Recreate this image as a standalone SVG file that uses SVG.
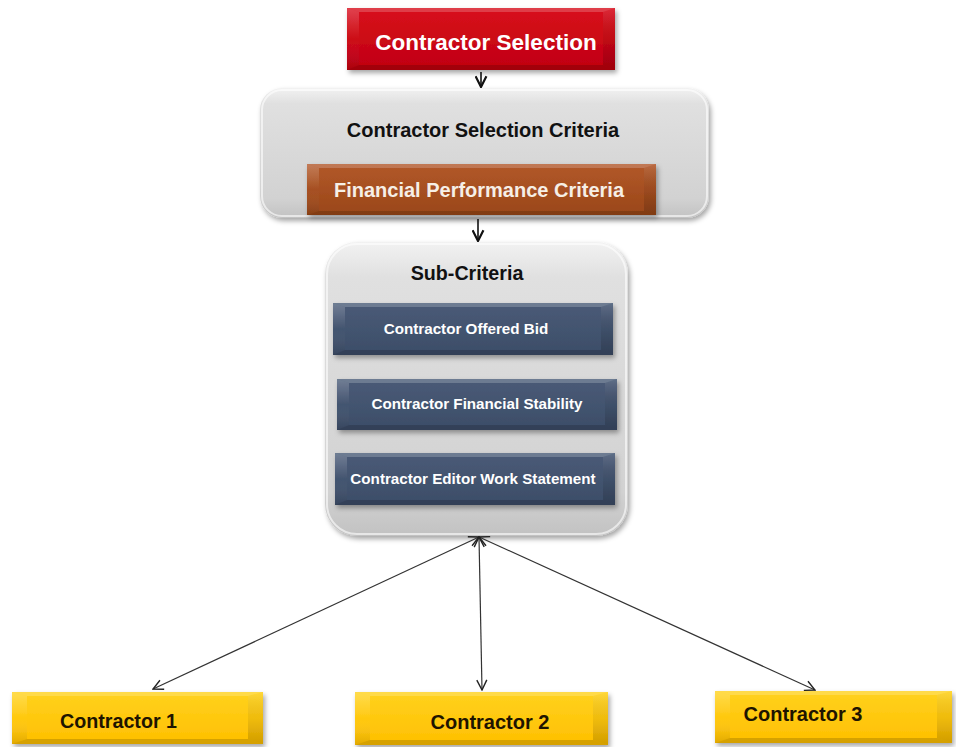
<svg xmlns="http://www.w3.org/2000/svg" width="956" height="747" viewBox="0 0 956 747">
  <defs>
    <style>
      text { font-family: "Liberation Sans", Arial, sans-serif; font-weight: bold; text-anchor: middle; }
      .t-white { fill: #ffffff; }
      .t-dark { fill: #111111; }
      .t-yel { fill: #1e1400; }
      .bev-top { fill: #ffffff; fill-opacity: 0.2; }
      .bev-left { fill: url(#bevLeft); }
      .bev-right { fill: url(#bevRight); }
      .bev-bot { fill: #000000; fill-opacity: 0.16; }
      .conn { stroke: #333333; stroke-width: 1.2; fill: none; }
      .conn-main { stroke: #111111; stroke-width: 1.6; fill: none; }
    </style>
    <filter id="shadow" x="-10%" y="-10%" width="125%" height="130%">
      <feDropShadow dx="2" dy="3" stdDeviation="2.5" flood-color="#000000" flood-opacity="0.35"/>
    </filter>
    <linearGradient id="bevLeft" x1="0" y1="0" x2="0" y2="1">
      <stop offset="0" stop-color="#ffffff" stop-opacity="0.22"/>
      <stop offset="0.5" stop-color="#ffffff" stop-opacity="0"/>
      <stop offset="1" stop-color="#000000" stop-opacity="0.12"/>
    </linearGradient>
    <linearGradient id="bevRight" x1="0" y1="0" x2="0" y2="1">
      <stop offset="0" stop-color="#ffffff" stop-opacity="0.12"/>
      <stop offset="0.5" stop-color="#000000" stop-opacity="0.06"/>
      <stop offset="1" stop-color="#000000" stop-opacity="0.18"/>
    </linearGradient>
    <linearGradient id="gRed" x1="0" y1="0" x2="0" y2="1">
      <stop offset="0" stop-color="#d8101c"/>
      <stop offset="1" stop-color="#c00010"/>
    </linearGradient>
    <linearGradient id="gBrown" x1="0" y1="0" x2="0" y2="1">
      <stop offset="0" stop-color="#b2582a"/>
      <stop offset="1" stop-color="#9a4718"/>
    </linearGradient>
    <linearGradient id="gBlue" x1="0" y1="0" x2="0" y2="1">
      <stop offset="0" stop-color="#4a5b77"/>
      <stop offset="1" stop-color="#3c4d68"/>
    </linearGradient>
    <linearGradient id="gYellow" x1="0" y1="0" x2="0" y2="1">
      <stop offset="0" stop-color="#ffd21e"/>
      <stop offset="1" stop-color="#ffbf00"/>
    </linearGradient>
    <linearGradient id="gGray" x1="0" y1="0" x2="0" y2="1">
      <stop offset="0" stop-color="#f2f2f2"/>
      <stop offset="0.12" stop-color="#e0e0e0"/>
      <stop offset="0.85" stop-color="#d2d2d2"/>
      <stop offset="1" stop-color="#c2c2c2"/>
    </linearGradient>
    <marker id="vhead" viewBox="0 0 12 12" refX="11" refY="6" markerWidth="12" markerHeight="12" markerUnits="userSpaceOnUse" orient="auto-start-reverse">
      <path d="M1,1 L11,6 L1,11" fill="none" stroke="#222222" stroke-width="1.4"/>
    </marker>
    <marker id="vheadBold" viewBox="0 0 12 12" refX="11" refY="6" markerWidth="13" markerHeight="13" markerUnits="userSpaceOnUse" orient="auto">
      <path d="M1,1 L11,6 L1,11" fill="none" stroke="#111111" stroke-width="2"/>
    </marker>
  </defs>

  <rect width="956" height="747" fill="#ffffff"/>

  <!-- top node -->
  <g id="contractor-selection">
    <g filter="url(#shadow)">
      <rect x="347" y="8" width="268" height="62" fill="url(#gRed)"/>
    </g>
    <polygon class="bev-top" points="347,8 615,8 603,12 359,12"/>
    <polygon class="bev-left" points="347,8 359,12 359,65 347,70"/>
    <polygon class="bev-right" points="615,8 615,70 603,65 603,12"/>
    <polygon class="bev-bot" points="347,70 359,65 603,65 615,70"/>
    <text class="t-white" x="486" y="50" font-size="22.5">Contractor Selection</text>
  </g>

  <!-- criteria container -->
  <g id="selection-criteria">
    <rect x="260" y="88" width="449" height="130" rx="22" fill="url(#gGray)" filter="url(#shadow)"/>
    <rect x="262" y="90" width="445" height="126" rx="20" fill="none" stroke="#ffffff" stroke-opacity="0.6" stroke-width="2"/>
    <text class="t-dark" x="483" y="137" font-size="20">Contractor Selection Criteria</text>
  </g>

  <g id="financial-performance">
    <g filter="url(#shadow)">
      <rect x="307" y="164" width="349" height="51" fill="url(#gBrown)"/>
    </g>
    <polygon class="bev-top" points="307,164 656,164 644,168 319,168"/>
    <polygon class="bev-left" points="307,164 319,168 319,211 307,215"/>
    <polygon class="bev-right" points="656,164 656,215 644,211 644,168"/>
    <polygon class="bev-bot" points="307,215 319,211 644,211 656,215"/>
    <text x="479" y="197" font-size="20" fill="#f6efe6">Financial Performance Criteria</text>
  </g>

  <!-- sub-criteria container -->
  <g id="sub-criteria">
    <rect x="325" y="242" width="303" height="294" rx="32" fill="url(#gGray)" filter="url(#shadow)"/>
    <rect x="327" y="244" width="299" height="290" rx="30" fill="none" stroke="#ffffff" stroke-opacity="0.6" stroke-width="2"/>
    <text class="t-dark" x="467" y="280" font-size="19.7">Sub-Criteria</text>
  </g>

  <g id="offered-bid">
    <g filter="url(#shadow)">
      <rect x="333" y="303" width="280" height="52" fill="url(#gBlue)"/>
    </g>
    <polygon class="bev-top" points="333,303 613,303 601,307 345,307"/>
    <polygon class="bev-left" points="333,303 345,307 345,350 333,355"/>
    <polygon class="bev-right" points="613,303 613,355 601,350 601,307"/>
    <polygon class="bev-bot" points="333,355 345,350 601,350 613,355"/>
    <text class="t-white" x="466" y="334" font-size="15.2">Contractor Offered Bid</text>
  </g>

  <g id="financial-stability">
    <g filter="url(#shadow)">
      <rect x="337" y="379" width="280" height="51" fill="url(#gBlue)"/>
    </g>
    <polygon class="bev-top" points="337,379 617,379 605,383 349,383"/>
    <polygon class="bev-left" points="337,379 349,383 349,425 337,430"/>
    <polygon class="bev-right" points="617,379 617,430 605,425 605,383"/>
    <polygon class="bev-bot" points="337,430 349,425 605,425 617,430"/>
    <text class="t-white" x="477" y="409" font-size="15.2">Contractor Financial Stability</text>
  </g>

  <g id="work-statement">
    <g filter="url(#shadow)">
      <rect x="335" y="453" width="280" height="52" fill="url(#gBlue)"/>
    </g>
    <polygon class="bev-top" points="335,453 615,453 603,457 347,457"/>
    <polygon class="bev-left" points="335,453 347,457 347,500 335,505"/>
    <polygon class="bev-right" points="615,453 615,505 603,500 603,457"/>
    <polygon class="bev-bot" points="335,505 347,500 603,500 615,505"/>
    <text class="t-white" x="473" y="484" font-size="15.2">Contractor Editor Work Statement</text>
  </g>

  <!-- contractors -->
  <g id="contractor-1">
    <g filter="url(#shadow)">
      <rect x="12" y="692" width="251" height="52" fill="url(#gYellow)"/>
    </g>
    <polygon class="bev-top" points="12,692 263,692 248,696 27,696"/>
    <polygon class="bev-left" points="12,692 27,696 27,739 12,744"/>
    <polygon class="bev-right" points="263,692 263,744 248,739 248,696"/>
    <polygon class="bev-bot" points="12,744 27,739 248,739 263,744"/>
    <text class="t-yel" x="118.5" y="728" font-size="19.7">Contractor 1</text>
  </g>

  <g id="contractor-2">
    <g filter="url(#shadow)">
      <rect x="355" y="692" width="253" height="53" fill="url(#gYellow)"/>
    </g>
    <polygon class="bev-top" points="355,692 608,692 593,696 370,696"/>
    <polygon class="bev-left" points="355,692 370,696 370,740 355,745"/>
    <polygon class="bev-right" points="608,692 608,745 593,740 593,696"/>
    <polygon class="bev-bot" points="355,745 370,740 593,740 608,745"/>
    <text class="t-yel" x="490" y="729" font-size="20">Contractor 2</text>
  </g>

  <g id="contractor-3">
    <g filter="url(#shadow)">
      <rect x="715" y="691" width="237" height="52" fill="url(#gYellow)"/>
    </g>
    <polygon class="bev-top" points="715,691 952,691 937,695 730,695"/>
    <polygon class="bev-left" points="715,691 730,695 730,738 715,743"/>
    <polygon class="bev-right" points="952,691 952,743 937,738 937,695"/>
    <polygon class="bev-bot" points="715,743 730,738 937,738 952,743"/>
    <text class="t-yel" x="803" y="721" font-size="20">Contractor 3</text>
  </g>

  <!-- connectors -->
  <g id="connectors">
    <line class="conn-main" x1="481" y1="72" x2="481" y2="87" marker-end="url(#vheadBold)"/>
    <line class="conn-main" x1="478" y1="219" x2="478" y2="241" marker-end="url(#vheadBold)"/>
    <line class="conn" x1="479" y1="537" x2="153" y2="689" marker-start="url(#vhead)" marker-end="url(#vhead)"/>
    <line class="conn" x1="479" y1="537" x2="482" y2="690" marker-start="url(#vhead)" marker-end="url(#vhead)"/>
    <line class="conn" x1="479" y1="537" x2="815" y2="690" marker-start="url(#vhead)" marker-end="url(#vhead)"/>
  </g>
</svg>
